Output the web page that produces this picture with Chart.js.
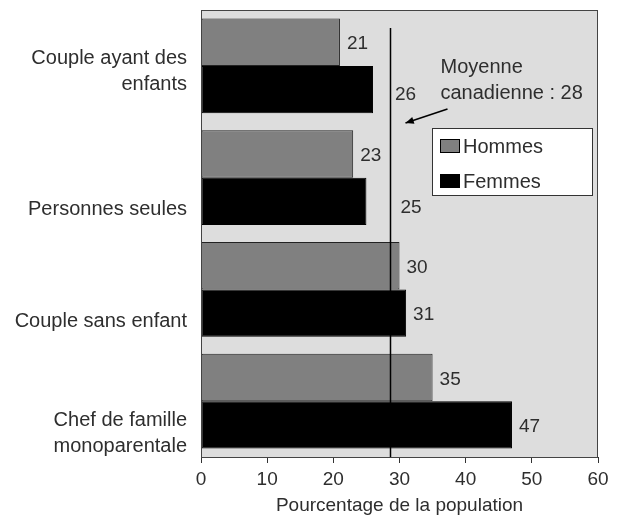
<!DOCTYPE html>
<html>
<head>
<meta charset="utf-8">
<script src="https://cdn.jsdelivr.net/npm/chart.js@4.4.0/dist/chart.umd.min.js"></script>
<style>
  html, body { margin: 0; padding: 0; background: #fff; }
  #wrap { width: 625px; height: 517px; }
</style>
</head>
<body>
<div id="wrap"><canvas id="chart" width="625" height="517"></canvas></div>
<script>
var categories = [['Couple ayant des', 'enfants'], ['Personnes seules'], ['Couple sans enfant'], ['Chef de famille', 'monoparentale']];
var hommes = [21, 23, 30, 35];
var femmes = [26, 25, 31, 47];
var xTicks = [0, 10, 20, 30, 40, 50, 60];
var moyenne = 28.6;
var moyenneText = ['Moyenne', 'canadienne : 28'];
var axisTitle = 'Pourcentage de la population';

var FONT = "'Liberation Sans', Arial, sans-serif";
var TEXT = '#2e2e2e';
Chart.defaults.font.family = FONT;
Chart.defaults.color = TEXT;

// extra shift for the two labels moved away from the average line
var labelNudge = { '1-0': [15, 3], '1-1': [27, 4] };

var decor = {
	id: 'decor',
	beforeDraw: function(chart) {
		var a = chart.chartArea, ctx = chart.ctx;
		ctx.save();
		ctx.fillStyle = '#dddddd';
		ctx.fillRect(a.left, a.top, a.right - a.left, a.bottom - a.top);
		ctx.restore();
	},
	afterDatasetsDraw: function(chart) {
		var a = chart.chartArea, ctx = chart.ctx;
		var xs = chart.scales.x;
		ctx.save();

		// frame
		ctx.strokeStyle = '#444';
		ctx.lineWidth = 1;
		ctx.strokeRect(a.left + 0.5, a.top + 0.5, a.right - a.left - 1, a.bottom - a.top);

		// average line
		var mx = Math.round(xs.getPixelForValue(moyenne)) + 0.5;
		ctx.strokeStyle = '#000';
		ctx.lineWidth = 1.5;
		ctx.beginPath();
		ctx.moveTo(mx, a.top + 18);
		ctx.lineTo(mx, a.bottom);
		ctx.stroke();

		// value labels
		ctx.font = '19px ' + FONT;
		ctx.fillStyle = TEXT;
		ctx.textAlign = 'left';
		ctx.textBaseline = 'middle';
		chart.data.datasets.forEach(function(ds, di) {
			chart.getDatasetMeta(di).data.forEach(function(el, i) {
				var n = labelNudge[di + '-' + i] || [0, 0];
				ctx.fillText(String(ds.data[i]), el.x + 7 + n[0], el.y + 2 + n[1]);
			});
		});

		// annotation
		ctx.font = '20px ' + FONT;
		var tx = mx + 50;
		ctx.fillText(moyenneText[0], tx, a.top + 57);
		ctx.fillText(moyenneText[1], tx, a.top + 83);
		ctx.strokeStyle = '#000';
		ctx.lineWidth = 1.5;
		var x1 = tx + 7, y1 = a.top + 99, x2 = mx + 15, y2 = a.top + 113;
		ctx.beginPath();
		ctx.moveTo(x1, y1);
		ctx.lineTo(x2, y2);
		ctx.stroke();
		var ang = Math.atan2(y2 - y1, x2 - x1);
		ctx.fillStyle = '#000';
		ctx.beginPath();
		ctx.moveTo(x2, y2);
		ctx.lineTo(x2 - 9 * Math.cos(ang - 0.4), y2 - 9 * Math.sin(ang - 0.4));
		ctx.lineTo(x2 - 9 * Math.cos(ang + 0.4), y2 - 9 * Math.sin(ang + 0.4));
		ctx.closePath();
		ctx.fill();

		// legend box
		var lx = 432, ly = a.top + 118, lw = 160, lh = 67;
		ctx.fillStyle = '#fff';
		ctx.fillRect(lx, ly, lw, lh);
		ctx.strokeStyle = '#333';
		ctx.lineWidth = 1;
		ctx.strokeRect(lx + 0.5, ly + 0.5, lw, lh);
		chart.data.datasets.forEach(function(ds, di) {
			var cy = ly + 18 + di * 35;
			ctx.fillStyle = ds.backgroundColor;
			ctx.fillRect(lx + 8, cy - 7, 20, 14);
			ctx.strokeStyle = '#000';
			ctx.strokeRect(lx + 8.5, cy - 6.5, 19, 13);
			ctx.fillStyle = TEXT;
			ctx.fillText(ds.label, lx + 31, cy + 1);
		});
		ctx.restore();
	}
};

new Chart(document.getElementById('chart'), {
	type: 'bar',
	data: {
		labels: categories,
		datasets: [
			{
				label: 'Hommes',
				data: hommes,
				backgroundColor: '#808080',
				borderColor: '#222',
				borderWidth: 1,
				borderSkipped: false
			},
			{
				label: 'Femmes',
				data: femmes,
				backgroundColor: '#000',
				borderColor: '#000',
				borderWidth: 1,
				borderSkipped: false
			}
		]
	},
	options: {
		indexAxis: 'y',
		responsive: false,
		animation: false,
		devicePixelRatio: 1,
		layout: { padding: { top: 10, right: 27, left: 0, bottom: 0 } },
		datasets: { bar: { barPercentage: 1, categoryPercentage: 0.85 } },
		plugins: { legend: { display: false }, tooltip: { enabled: false } },
		scales: {
			x: {
				min: 0,
				max: 60,
				afterBuildTicks: function(s) { s.ticks = xTicks.map(function(v) { return { value: v }; }); },
				afterFit: function(s) { s.height = 60; s.paddingLeft = 0; s.paddingRight = 0; },
				grid: { drawOnChartArea: false, tickLength: 6, color: '#333' },
				border: { display: true, color: '#333' },
				ticks: { font: { size: 19 }, color: TEXT, padding: 5, maxRotation: 0 },
				title: { display: true, text: axisTitle, font: { size: 19 }, color: TEXT, padding: { top: 0, bottom: 0 } }
			},
			y: {
				afterFit: function(s) { s.width = 201; s.paddingTop = 0; s.paddingBottom = 0; },
				grid: { display: false, drawTicks: false },
				border: { display: false },
				ticks: {
					font: { size: 20, lineHeight: 1.3 },
					color: TEXT,
					padding: 14,
					labelOffset: 32,
					callback: function(v, i) {
						var l = categories[i];
						// first label sits higher than the others
						return i === 0 ? l.concat(['', '']) : l;
					}
				}
			}
		}
	},
	plugins: [decor]
});
</script>
</body>
</html>
